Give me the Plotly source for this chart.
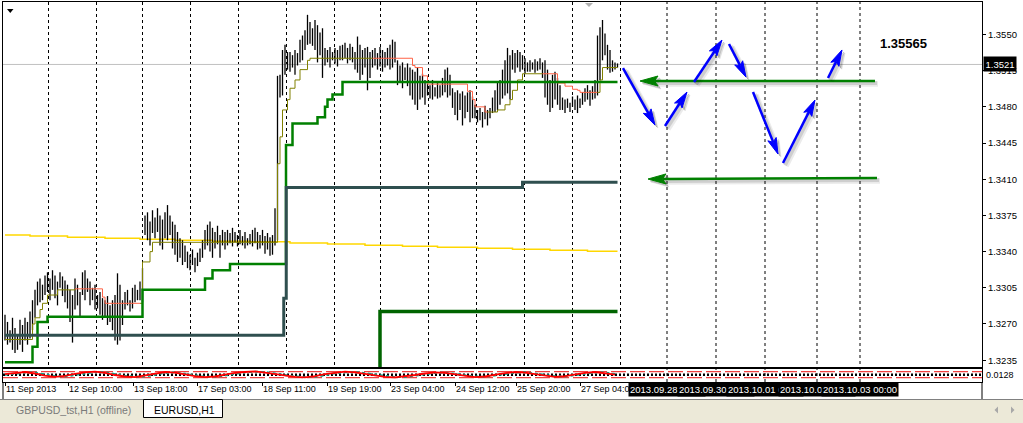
import math
import plotly.graph_objects as go

# ---------------- data ----------------
bar_high = [
1.3279,1.3272,1.3264,1.3276,1.3266,1.3259,1.3274,1.3269,1.3276,1.3272,
1.3282,1.3293,1.3303,1.3311,1.3314,1.3308,1.3317,1.3320,1.3314,1.3322,
1.3317,1.3311,1.3320,1.3316,1.3312,1.3308,1.3303,1.3298,1.3314,1.3308,
1.3301,1.3320,1.3322,1.3314,1.3311,1.3305,1.3308,1.3298,1.3301,1.3295,
1.3293,1.3297,1.3288,1.3293,1.3298,1.3319,1.3308,1.3293,1.3301,1.3303,
1.3293,1.3305,1.3308,1.3303,1.3311,1.3324,1.3375,1.3378,1.3369,1.3380,
1.3373,1.3382,1.3375,1.3371,1.3378,1.3385,1.3375,1.3369,1.3366,1.3359,
1.3353,1.3351,1.3346,1.3340,1.3337,1.3342,1.3334,1.3339,1.3343,1.3351,
1.3361,1.3366,1.3369,1.3363,1.3359,1.3365,1.3356,1.3361,1.3359,1.3361,
1.3358,1.3363,1.3359,1.3356,1.3361,1.3355,1.3359,1.3353,1.3357,1.3361,
1.3363,1.3359,1.3356,1.3361,1.3355,1.3358,1.3354,1.3356,1.3382,1.3510,
1.3511,1.3535,1.3540,1.3533,1.3533,1.3530,1.3535,1.3532,1.3545,1.3549,
1.3554,1.3569,1.3562,1.3556,1.3564,1.3559,1.3552,1.3556,1.3537,1.3535,
1.3538,1.3533,1.3537,1.3535,1.3539,1.3540,1.3542,1.3537,1.3541,1.3538,
1.3533,1.3548,1.3540,1.3535,1.3537,1.3538,1.3533,1.3535,1.3537,1.3532,
1.3538,1.3535,1.3533,1.3537,1.3540,1.3545,1.3543,1.3525,1.3520,1.3523,
1.3518,1.3522,1.3518,1.3516,1.3514,1.3518,1.3510,1.3512,1.3506,1.3504,
1.3501,1.3506,1.3499,1.3503,1.3501,1.3508,1.3516,1.3518,1.3511,1.3498,
1.3494,1.3496,1.3493,1.3495,1.3491,1.3494,1.3496,1.3490,1.3482,1.3477,
1.3479,1.3475,1.3481,1.3477,1.3479,1.3489,1.3496,1.3504,1.3506,1.3516,
1.3525,1.3537,1.3530,1.3535,1.3532,1.3535,1.3533,1.3530,1.3527,1.3523,
1.3525,1.3523,1.3526,1.3524,1.3527,1.3523,1.3525,1.3516,1.3506,1.3511,
1.3514,1.3508,1.3501,1.3489,1.3487,1.3488,1.3484,1.3490,1.3487,1.3491,
1.3488,1.3494,1.3498,1.3501,1.3496,1.3500,1.3506,1.3549,1.3557,1.3564,
1.3551,1.3540,1.3535,1.3525,1.3523,1.3522]
bar_low = [
1.3254,1.3250,1.3252,1.3245,1.3242,1.3245,1.3250,1.3243,1.3254,1.3250,
1.3256,1.3264,1.3276,1.3288,1.3291,1.3293,1.3298,1.3301,1.3293,1.3303,
1.3295,1.3288,1.3305,1.3297,1.3291,1.3285,1.3272,1.3252,1.3284,1.3288,
1.3276,1.3298,1.3293,1.3301,1.3288,1.3293,1.3284,1.3285,1.3279,1.3274,
1.3276,1.3269,1.3272,1.3264,1.3254,1.3250,1.3254,1.3269,1.3284,1.3288,
1.3282,1.3285,1.3291,1.3293,1.3293,1.3291,1.3356,1.3351,1.3346,1.3358,
1.3353,1.3359,1.3346,1.3342,1.3353,1.3351,1.3356,1.3343,1.3337,1.3330,
1.3334,1.3327,1.3330,1.3324,1.3322,1.3327,1.3320,1.3326,1.3330,1.3334,
1.3342,1.3346,1.3340,1.3334,1.3343,1.3347,1.3334,1.3346,1.3342,1.3346,
1.3348,1.3345,1.3349,1.3345,1.3347,1.3346,1.3343,1.3346,1.3347,1.3345,
1.3348,1.3342,1.3343,1.3346,1.3338,1.3342,1.3336,1.3337,1.3346,1.3351,
1.3489,1.3491,1.3511,1.3516,1.3514,1.3518,1.3511,1.3520,1.3523,1.3525,
1.3535,1.3540,1.3541,1.3539,1.3535,1.3523,1.3530,1.3508,1.3520,1.3523,
1.3518,1.3525,1.3522,1.3519,1.3525,1.3525,1.3527,1.3522,1.3525,1.3523,
1.3516,1.3513,1.3506,1.3511,1.3518,1.3496,1.3508,1.3518,1.3520,1.3516,
1.3519,1.3514,1.3518,1.3520,1.3516,1.3518,1.3523,1.3501,1.3503,1.3498,
1.3506,1.3500,1.3491,1.3487,1.3482,1.3477,1.3487,1.3489,1.3482,1.3491,
1.3488,1.3487,1.3490,1.3488,1.3489,1.3491,1.3494,1.3489,1.3491,1.3479,
1.3472,1.3467,1.3477,1.3462,1.3469,1.3475,1.3465,1.3469,1.3469,1.3465,
1.3467,1.3460,1.3468,1.3462,1.3469,1.3474,1.3475,1.3477,1.3482,1.3488,
1.3491,1.3493,1.3487,1.3516,1.3513,1.3518,1.3514,1.3516,1.3512,1.3514,
1.3514,1.3516,1.3513,1.3515,1.3516,1.3508,1.3489,1.3482,1.3475,1.3479,
1.3487,1.3482,1.3477,1.3477,1.3474,1.3479,1.3475,1.3480,1.3477,1.3474,
1.3479,1.3482,1.3485,1.3487,1.3481,1.3487,1.3488,1.3491,1.3506,1.3525,
1.3530,1.3516,1.3513,1.3514,1.3516,1.3518]

# trend line (olive when rising, red when falling), step points
mid_bars = [0, 11, 12, 14, 15, 17, 21, 28, 39, 40, 54, 55, 58, 59, 109, 110, 111, 113, 114, 116,
            118, 121, 122, 147, 163, 164, 167, 169, 185, 187, 188, 192, 193, 197, 200, 202, 203,
            205, 207, 215, 221, 224, 227, 229, 230, 237, 238, 239, 245]
mid_vals = [1.3255, 1.3270, 1.3276, 1.3284, 1.3290, 1.3298, 1.3303, 1.3304, 1.3296, 1.3290,
            1.3290, 1.3330, 1.3340, 1.3349, 1.3425, 1.3451, 1.3477, 1.3487, 1.3498, 1.3506,
            1.3516, 1.3525, 1.3527, 1.3527, 1.3520, 1.3518, 1.3510, 1.3502, 1.3495, 1.3487,
            1.3480, 1.3475, 1.3475, 1.3477, 1.3482, 1.3487, 1.3496, 1.3506, 1.3512, 1.3512,
            1.3503, 1.3500, 1.3497, 1.3496, 1.3494, 1.3494, 1.3506, 1.3518, 1.3518]
mid_runs = [(0, 7, "up"), (7, 10, "down"), (10, 23, "up"), (23, 32, "down"),
            (32, 39, "up"), (39, 45, "down"), (45, 48, "up")]

green_bars = [0, 11, 13, 17, 55, 80, 83, 90, 112.4, 115, 125, 128, 129, 131, 135, 245]
green_vals = [1.3233, 1.3248, 1.3272, 1.3277, 1.3303, 1.3314, 1.3322, 1.3328, 1.3443, 1.3464,
              1.3470, 1.3480, 1.3487, 1.3492, 1.3504, 1.3504]

slate_bars = [0, 111.5, 112.5, 207, 245]
slate_vals = [1.3259, 1.3295, 1.3402, 1.3407, 1.3407]

gold_bars = [0, 10, 25, 40, 54, 68, 83, 98, 114, 129, 144, 159, 173, 189, 203, 218, 233, 245]
gold_vals = [1.33561, 1.33551, 1.33538, 1.33529, 1.33519, 1.33509, 1.33501, 1.33496, 1.33483,
             1.33474, 1.33461, 1.33451, 1.33442, 1.33432, 1.33422, 1.33413, 1.33403, 1.33403]

dkgreen_bars = [149.5, 150, 245]
dkgreen_vals = [1.3100, 1.3282, 1.3282]

osc_vals = [0.002, 0.006, 0.009, 0.004, -0.003, -0.007, -0.004, 0.003, 0.008, 0.010,
            0.006, -0.001, -0.006, -0.008, -0.003, 0.004, 0.009, 0.007, 0.001, -0.005,
            -0.008, -0.006, 0.000, 0.006, 0.009, 0.011, 0.007, 0.002, -0.004, -0.007,
            -0.009, -0.005, 0.002, 0.007, 0.010, 0.008, 0.003, -0.003, -0.007, -0.009,
            -0.006, -0.001, 0.004, 0.008, 0.006, 0.001, -0.004, -0.008, -0.006, 0.000,
            0.005, 0.009, 0.007, 0.002, -0.003, -0.007, -0.005, 0.001, 0.006, 0.009,
            0.005, 0.000]
sig_vals = [0.000, 0.003, 0.007, 0.007, 0.001, -0.005, -0.006, -0.001, 0.005, 0.009,
            0.008, 0.002, -0.004, -0.007, -0.006, 0.000, 0.006, 0.008, 0.004, -0.002,
            -0.007, -0.007, -0.003, 0.003, 0.008, 0.010, 0.009, 0.004, -0.001, -0.006,
            -0.008, -0.007, -0.002, 0.005, 0.008, 0.009, 0.005, 0.000, -0.005, -0.008,
            -0.008, -0.004, 0.002, 0.006, 0.007, 0.003, -0.002, -0.006, -0.007, -0.003,
            0.003, 0.007, 0.008, 0.004, -0.001, -0.005, -0.006, -0.002, 0.004, 0.008,
            0.007, 0.002]
osc_levels = [0.01, -0.01]
osc_mid = 0.0
osc_label = "0.0128"

current_price = 1.3521
price_ticks = [1.3235, 1.3270, 1.3305, 1.3340, 1.3375, 1.3410, 1.3445, 1.3480, 1.3515, 1.3550]

time_labels = ["11 Sep 2013", "12 Sep 10:00", "13 Sep 18:00", "17 Sep 03:00", "18 Sep 11:00",
               "19 Sep 19:00", "23 Sep 04:00", "24 Sep 12:00", "25 Sep 20:00", "27 Sep 04:00"]
time_label_bars = [0, 25.2, 51.2, 76.8, 102.8, 128.8, 154, 180, 204.4, 230]
grid_bars = [17.2, 36.4, 54.8, 74, 93.2, 112.4, 131.6, 150, 169.2, 188.4, 207.6, 226.8, 246]

vline_bars = [264.8, 284.4, 304, 324.8, 342]
vline_labels = ["2013.09.28 00:00", "2013.09.30 00:00", "2013.10.01 00:00",
                "2013.10.02 00:00", "2013.10.03 00:00"]

# arrows: (tail bar, tail price, head bar, head price)
blue_arrows = [(247.2, 1.35175, 260.0, 1.34624), (264.0, 1.34615, 272.8, 1.34943),
               (275.6, 1.35040, 286.8, 1.35446), (289.6, 1.35408, 296.4, 1.35088),
               (299.2, 1.34943, 309.2, 1.34344), (311.2, 1.34257, 324.0, 1.34866),
               (329.2, 1.35079, 334.8, 1.35350)]
green_arrows = [(348.0, 1.35050, 254.0, 1.35050), (348.8, 1.34112, 257.2, 1.34102)]

text_label = "1.35565"
text_bar = 349.2
text_price = 1.35408

tab_inactive = "GBPUSD_tst,H1 (offline)"
tab_active = "EURUSD,H1"

# ---------------- layout geometry ----------------
W, H = 1023, 423
ML, MR, MT, MB = 3, 41, 2, 41
PLOT_W = W - ML - MR
PLOT_H = H - MT - MB
MAIN_BOTTOM_PX = 367
IND_TOP_PX = 369
main_dom = [(H - MB - MAIN_BOTTOM_PX) / PLOT_H, 1.0]
ind_dom = [0.0, (H - MB - IND_TOP_PX) / PLOT_H]
X_RANGE = [-0.8, 390.8]
Y_RANGE = [1.32284, 1.35814]
Y2_RANGE = [-0.0244, 0.0191]
MAIN_PX_H = MAIN_BOTTOM_PX - MT
PX_PER_X = PLOT_W / (X_RANGE[1] - X_RANGE[0])
PX_PER_Y = MAIN_PX_H / (Y_RANGE[1] - Y_RANGE[0])
FONT = "Arial, Liberation Sans, sans-serif"


def px_x(px):
    return (px - ML) / PLOT_W


def px_y(py):
    return (H - MB - py) / PLOT_H


fig = go.Figure()


def line_trace(x, y, color, width, shape="linear", dash=None, xa="x", ya="y", fill=None, fillcolor=None):
    ln = dict(color=color, width=width, shape=shape)
    if dash:
        ln["dash"] = dash
    kw = dict(x=x, y=y, mode="lines", line=ln, xaxis=xa, yaxis=ya, hoverinfo="skip", showlegend=False)
    if fill:
        kw["fill"] = fill
        kw["fillcolor"] = fillcolor
    fig.add_trace(go.Scatter(**kw))


# current price line (drawn first, behind everything)
line_trace(list(X_RANGE), [current_price, current_price], "#C0C0C0", 1)

# gold line
line_trace(gold_bars, gold_vals, "#FFD700", 1.5, "hv")

# price bars
bx, by = [], []
for i, (h, l) in enumerate(zip(bar_high, bar_low)):
    bx += [i, i, None]
    by += [l, h, None]
line_trace(bx, by, "black", 1.3)

# trend line
for a, b, kind in mid_runs:
    line_trace(mid_bars[a:b + 1], mid_vals[a:b + 1], "#808000" if kind == "up" else "#FF6347", 1, "hv")

line_trace(green_bars, green_vals, "#008000", 2.5, "hv")
line_trace(slate_bars, slate_vals, "#2F4F4F", 3, "hv")
line_trace(dkgreen_bars, dkgreen_vals, "#006400", 3.5, "hv")


# arrows
def arrow_geom(x0, y0, x1, y1, head_len, head_w):
    X0, Y0, X1, Y1 = x0 * PX_PER_X, y0 * PX_PER_Y, x1 * PX_PER_X, y1 * PX_PER_Y
    dx, dy = X1 - X0, Y1 - Y0
    L = math.hypot(dx, dy)
    ux, uy = dx / L, dy / L
    nx, ny = -uy, ux
    bxp, byp = X1 - ux * head_len, Y1 - uy * head_len
    kx, ky = X1 - ux * head_len * 0.8, Y1 - uy * head_len * 0.8
    pts = [(X1, Y1), (bxp + nx * head_w / 2, byp + ny * head_w / 2), (kx, ky),
           (bxp - nx * head_w / 2, byp - ny * head_w / 2), (X1, Y1)]
    head = ([p[0] / PX_PER_X for p in pts], [p[1] / PX_PER_Y for p in pts])
    shaft = ([x0, kx / PX_PER_X], [y0, ky / PX_PER_Y])
    return shaft, head


def add_arrow(a, color, width, head_len, head_w):
    shaft, head = arrow_geom(*a, head_len, head_w)
    for off, alpha, extra in ((3.0, 0.08, 3), (2.0, 0.12, 1.5)):
        sx, sy = off / PX_PER_X, -off / PX_PER_Y
        shadow = f"rgba(0,0,0,{alpha})"
        line_trace([v + sx for v in shaft[0]], [v + sy for v in shaft[1]], shadow, width + extra)
        line_trace([v + sx for v in head[0]], [v + sy for v in head[1]], shadow, 1, fill="toself",
                   fillcolor=shadow)
    line_trace(shaft[0], shaft[1], color, width)
    line_trace(head[0], head[1], color, 1, fill="toself", fillcolor=color)


for a in green_arrows:
    add_arrow(a, "#008000", 2.5, 18, 10)
for a in blue_arrows:
    add_arrow(a, "#0000FF", 2.5, 16, 9)

# indicator pane
for lv in osc_levels:
    line_trace(list(X_RANGE), [lv, lv], "#F04040", 1.2, dash="15px,4px", xa="x2", ya="y2")
line_trace(list(X_RANGE), [osc_mid, osc_mid], "black", 2.5, dash="2px,2px", xa="x2", ya="y2")
osc_bars = list(range(0, 4 * len(osc_vals), 4))
line_trace(osc_bars, sig_vals, "#00A890", 2, dash="dot", xa="x2", ya="y2")
line_trace(osc_bars, osc_vals, "#FF0000", 1.8, xa="x2", ya="y2")

shapes = []
for vb in vline_bars:
    shapes.append(dict(type="line", xref="x", yref="paper", x0=vb, x1=vb, y0=0, y1=1,
                       line=dict(color="black", width=1, dash="3px,3px"), layer="below"))
# chart decorations
shapes.append(dict(type="path", xref="paper", yref="paper",
                   path=f"M{px_x(7)},{px_y(9)} L{px_x(13.5)},{px_y(9)} L{px_x(10.25)},{px_y(13)} Z",
                   fillcolor="black", line=dict(width=0)))
shapes.append(dict(type="path", xref="paper", yref="paper",
                   path=f"M{px_x(585)},{px_y(3)} L{px_x(593)},{px_y(3)} L{px_x(589)},{px_y(7)} Z",
                   fillcolor="#B0B0B0", line=dict(width=0)))
# frame extensions below the panes
for xx in (0, 1):
    shapes.append(dict(type="line", xref="paper", yref="paper", x0=xx, x1=xx, y0=px_y(382), y1=px_y(399),
                       line=dict(color="black", width=1)))
# tab bar
shapes.append(dict(type="rect", xref="paper", yref="paper", x0=px_x(-2), x1=px_x(W + 2), y0=px_y(H + 2),
                   y1=px_y(399), fillcolor="#ECE9D8", line=dict(width=0)))
shapes.append(dict(type="line", xref="paper", yref="paper", x0=px_x(0), x1=px_x(W), y0=px_y(399.5),
                   y1=px_y(399.5), line=dict(color="#808080", width=1)))
shapes.append(dict(type="rect", xref="paper", yref="paper", x0=px_x(143.5), x1=px_x(222.5), y0=px_y(417.5),
                   y1=px_y(399.5), fillcolor="white", line=dict(color="black", width=1)))
shapes.append(dict(type="path", xref="paper", yref="paper",
                   path=f"M{px_x(998)},{px_y(406.5)} L{px_x(998)},{px_y(413.5)} L{px_x(994.5)},{px_y(410)} Z",
                   fillcolor="#A8A8A8", line=dict(width=0)))
shapes.append(dict(type="path", xref="paper", yref="paper",
                   path=f"M{px_x(1011)},{px_y(406.5)} L{px_x(1011)},{px_y(413.5)} L{px_x(1014.5)},{px_y(410)} Z",
                   fillcolor="#A8A8A8", line=dict(width=0)))

ann = []
for lbl, xb in zip(time_labels, time_label_bars):
    ann.append(dict(x=xb, y=px_y(389.5), xref="x", yref="paper", text=lbl, showarrow=False,
                    xanchor="left", yanchor="middle", xshift=-1, font=dict(size=9, color="black", family=FONT)))
for lbl, xb in zip(vline_labels, vline_bars):
    ann.append(dict(x=xb, y=px_y(389.5), xref="x", yref="paper", text=lbl, showarrow=False,
                    xanchor="center", yanchor="middle", bgcolor="black", borderpad=1,
                    font=dict(size=9.5, color="white", family=FONT)))
ann.append(dict(x=1, y=current_price, xref="paper", yref="y", text=f"{current_price:.4f}", showarrow=False,
                xanchor="left", yanchor="middle", xshift=1, bgcolor="black", borderpad=1.5,
                font=dict(size=9.5, color="white", family=FONT)))
ann.append(dict(x=text_bar, y=text_price, xref="x", yref="y", text=f"<b>{text_label}</b>", showarrow=False,
                xanchor="left", yanchor="middle", font=dict(size=13, color="black", family=FONT)))
ann.append(dict(x=1, y=px_y(374.5), xref="paper", yref="paper", text=osc_label, showarrow=False,
                xanchor="left", yanchor="middle", xshift=2, font=dict(size=9, color="black", family=FONT)))
ann.append(dict(x=px_x(14), y=px_y(409.5), xref="paper", yref="paper", text=tab_inactive, showarrow=False,
                xanchor="left", yanchor="middle", font=dict(size=10.5, color="#7A7A7A", family=FONT)))
ann.append(dict(x=px_x(152), y=px_y(409.5), xref="paper", yref="paper", text=tab_active, showarrow=False,
                xanchor="left", yanchor="middle", font=dict(size=10.5, color="black", family=FONT)))

fig.update_layout(
    width=W, height=H,
    margin=dict(l=ML, r=MR, t=MT, b=MB, pad=0, autoexpand=False),
    paper_bgcolor="white", plot_bgcolor="white",
    font=dict(family=FONT, size=9.5, color="black"),
    showlegend=False,
    shapes=shapes,
    annotations=ann,
    xaxis=dict(domain=[0, 1], range=X_RANGE, anchor="y", showticklabels=False, ticks="",
               tickmode="array", tickvals=grid_bars, showgrid=True, gridcolor="black", gridwidth=1,
               griddash="3px,3px", showline=True, linecolor="black", linewidth=1, mirror=True,
               zeroline=False, fixedrange=True),
    yaxis=dict(domain=main_dom, range=Y_RANGE, anchor="x", side="right", tickmode="array",
               tickvals=price_ticks, ticktext=[f"{v:.4f}" for v in price_ticks], ticks="outside", ticklen=3,
               tickcolor="black", tickfont=dict(size=9.5, family=FONT), showgrid=False, showline=True,
               linecolor="black", linewidth=1, mirror=True, zeroline=False, fixedrange=True),
    xaxis2=dict(domain=[0, 1], range=X_RANGE, anchor="y2", showticklabels=False, tickmode="array",
                tickvals=time_label_bars, ticks="outside", ticklen=3, tickcolor="black", showgrid=False,
                showline=True, linecolor="black", linewidth=1, mirror=True, zeroline=False, fixedrange=True),
    yaxis2=dict(domain=ind_dom, range=Y2_RANGE, anchor="x2", side="right", showticklabels=False, ticks="",
                showgrid=False, showline=True, linecolor="black", linewidth=1, mirror=True, zeroline=False,
                fixedrange=True),
)

fig.write_html("out.html", config={"displayModeBar": False},
               post_script="document.body.style.margin='0px';document.body.style.overflow='hidden';")
